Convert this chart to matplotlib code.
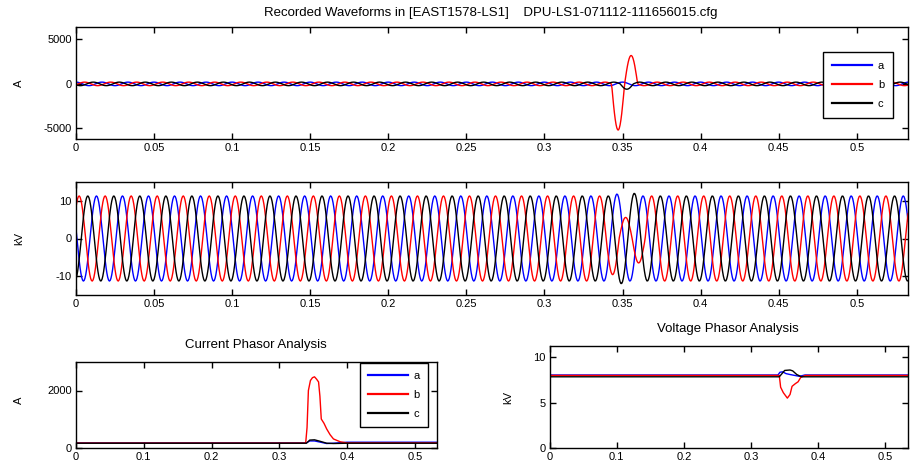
import numpy as np
import matplotlib
matplotlib.use("Agg")
import matplotlib.pyplot as plt
from matplotlib.ticker import FuncFormatter

plt.rcParams['font.family'] = ['Liberation Sans', 'DejaVu Sans']
plt.rcParams['font.size'] = 8

# ---------------- data ----------------
PHASES = ["a", "b", "c"]
COLORS = ["#0000ff", "#ff0000", "#000000"]
FREQ_HZ = 60.0
SAMPLE_RATE = 1920.0
N_SAMPLES = 1024

# recorded current waveforms (A): peak value and phase angle at t=0 (deg)
I_PEAK = [200.0, 200.0, 200.0]
I_PHASE_DEG = [91.0, -28.8, -149.0]
# half-cycles with a different peak during the fault: (time of peak, peak value)
I_FAULT = {
    "a": [],
    "b": [(0.347, 5200.0), (0.3555, 3200.0)],
    "c": [(0.3515, 600.0)],
}

# recorded voltage waveforms (kV)
V_PEAK = [11.3, 11.3, 11.3]
V_PHASE_DEG = [167.0, 47.0, -73.0]
V_FAULT = {
    "a": [(0.347, 11.8)],
    "b": [(0.345, 9.6), (0.351, 5.6), (0.359, 6.5)],
    "c": [(0.3515, 12.0), (0.3575, 12.0)],
}

# current phasor magnitudes (A)
IPH_T = {
    "a": [0.0, 0.340, 0.345, 0.352, 0.360, 0.370, 0.380, 0.400, 0.533],
    "b": [0.0, 0.339, 0.341, 0.343, 0.346, 0.349, 0.352, 0.355, 0.358, 0.360,
          0.362, 0.366, 0.370, 0.375, 0.380, 0.390, 0.400, 0.533],
    "c": [0.0, 0.340, 0.345, 0.352, 0.360, 0.370, 0.380, 0.400, 0.533],
}
IPH_V = {
    "a": [160, 160, 230, 230, 190, 140, 150, 185, 185],
    "b": [155, 155, 700, 2000, 2350, 2450, 2480, 2400, 2300, 1800,
          1000, 850, 650, 450, 300, 200, 160, 160],
    "c": [150, 150, 260, 270, 220, 150, 140, 150, 150],
}

# voltage phasor magnitudes (kV)
VPH_T = {
    "a": [0.0, 0.002, 0.340, 0.343, 0.347, 0.352, 0.358, 0.365, 0.372, 0.380, 0.533],
    "b": [0.0, 0.0005, 0.002, 0.342, 0.344, 0.348, 0.354, 0.358, 0.361, 0.366,
          0.370, 0.374, 0.381, 0.533],
    "c": [0.0, 0.342, 0.346, 0.350, 0.358, 0.362, 0.368, 0.375, 0.533],
}
VPH_V = {
    "a": [8.3, 8.05, 8.05, 8.35, 8.4, 8.2, 8.1, 8.0, 7.9, 8.05, 8.05],
    "b": [3.2, 7.5, 8.0, 8.0, 6.7, 6.1, 5.5, 5.9, 6.8, 7.1, 7.3, 7.8, 8.0, 8.0],
    "c": [7.85, 7.85, 8.2, 8.55, 8.6, 8.5, 8.1, 7.85, 7.85],
}

TITLE = "Recorded Waveforms in [EAST1578-LS1]    DPU-LS1-071112-111656015.cfg"

# ---------------- helpers ----------------
t = np.arange(N_SAMPLES) / SAMPLE_RATE


def waveform(peak, phase_deg, fault):
    theta = 360.0 * FREQ_HZ * t + phase_deg
    half = np.floor(theta / 180.0)
    amp = np.full_like(t, peak)
    for tp, pk in fault:
        k = np.floor((360.0 * FREQ_HZ * tp + phase_deg) / 180.0)
        amp[half == k] = pk
    return amp * np.sin(np.radians(theta))


fmt = FuncFormatter(lambda v, p: ("%g" % round(v, 4)))


def style(ax):
    ax.tick_params(direction="in", top=True, right=True, length=4,
                   width=1.0, labelsize=8, pad=3)
    for s in ax.spines.values():
        s.set_linewidth(1.0)
        s.set_color("black")
    ax.xaxis.set_major_formatter(fmt)
    ax.yaxis.set_major_formatter(fmt)


W, H = 913, 468
fig = plt.figure(figsize=(W / 100, H / 100), dpi=100)


def axes_px(l, r, top, bot):
    return fig.add_axes([l / W, 1 - bot / H, (r - l) / W, (bot - top) / H])


ax1 = axes_px(76, 908, 27, 139)
ax2 = axes_px(76, 908, 182, 295)
ax3 = axes_px(76, 437, 362, 447.5)
ax4 = axes_px(549.5, 907.5, 345.5, 448)

XMAX = t[-1]

LEG_KW = dict(loc="upper right", borderaxespad=0, fancybox=False,
              edgecolor="black", framealpha=1, handlelength=3.6,
              handletextpad=0.5, fontsize=8)

# top: currents
for i, ph in enumerate(PHASES):
    ax1.plot(t, waveform(I_PEAK[i], I_PHASE_DEG[i], I_FAULT[ph]),
             color=COLORS[i], lw=1.0, label=ph)
ax1.set_xlim(0, XMAX)
ax1.set_ylim(-6200, 6400)
ax1.set_yticks([-5000, 0, 5000])
ax1.set_xticks(np.arange(0, 0.51, 0.05))
ax1.set_ylabel("A")
ax1.yaxis.set_label_coords(-0.062, 0.5)
style(ax1)
leg1 = ax1.legend(bbox_to_anchor=(0.982, 0.777), labelspacing=0.83,
                  borderpad=0.8, **LEG_KW)
leg1.get_frame().set_linewidth(1.0)
for ln in leg1.get_lines():
    ln.set_linewidth(1.6)

# middle: voltages
for i, ph in enumerate(PHASES):
    ax2.plot(t, waveform(V_PEAK[i], V_PHASE_DEG[i], V_FAULT[ph]),
             color=COLORS[i], lw=1.0)
ax2.set_xlim(0, XMAX)
ax2.set_ylim(-15, 15)
ax2.set_yticks([-10, 0, 10])
ax2.set_xticks(np.arange(0, 0.51, 0.05))
ax2.set_ylabel("kV")
ax2.yaxis.set_label_coords(-0.062, 0.5)
style(ax2)

# bottom left: current phasors
for i, ph in enumerate(PHASES):
    ax3.plot(IPH_T[ph], IPH_V[ph], color=COLORS[i], lw=1.0, label=ph)
ax3.set_xlim(0, XMAX)
ax3.set_ylim(0, 3000)
ax3.set_yticks([0, 2000])
ax3.set_xticks(np.arange(0, 0.51, 0.1))
ax3.set_ylabel("A")
ax3.yaxis.set_label_coords(-0.145, 0.55)
style(ax3)
leg3 = ax3.legend(bbox_to_anchor=(0.975, 0.99), labelspacing=0.78,
                  borderpad=0.75, **LEG_KW)
leg3.get_frame().set_linewidth(1.0)
for ln in leg3.get_lines():
    ln.set_linewidth(1.6)

# bottom right: voltage phasors
for i, ph in enumerate(PHASES):
    ax4.plot(VPH_T[ph], VPH_V[ph], color=COLORS[i], lw=1.0)
ax4.set_xlim(0, XMAX)
ax4.set_ylim(0, 11.3)
ax4.set_yticks([0, 5, 10])
ax4.set_xticks(np.arange(0, 0.51, 0.1))
ax4.set_ylabel("kV")
ax4.yaxis.set_label_coords(-0.10, 0.49)
style(ax4)

fig.text(491 / W, 1 - 13 / H, TITLE, ha="center", va="center", fontsize=9.5)
fig.text(256 / W, 1 - 345 / H, "Current Phasor Analysis", ha="center",
         va="center", fontsize=9.5)
fig.text(728 / W, 1 - 329 / H, "Voltage Phasor Analysis", ha="center",
         va="center", fontsize=9.5)

fig.savefig("out.png", dpi=100, facecolor="white")
